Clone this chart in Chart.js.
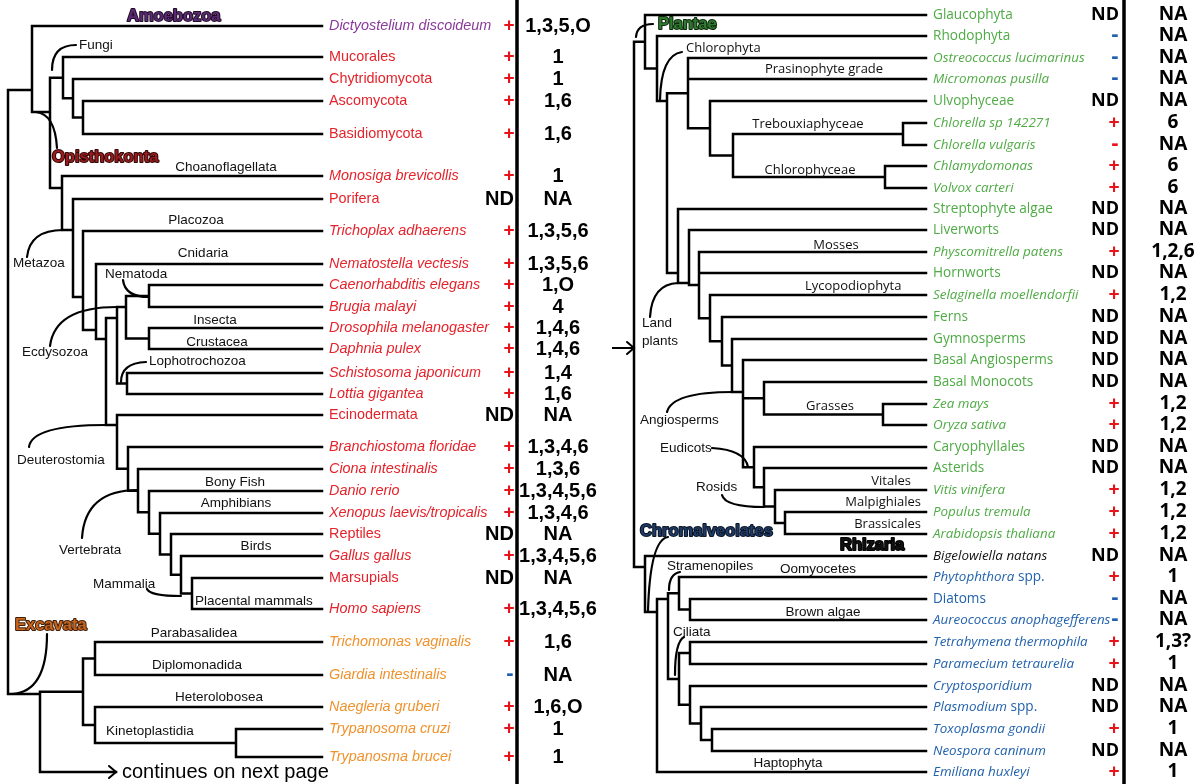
<!DOCTYPE html>
<html>
<head>
<meta charset="utf-8">
<script src="https://cdn.jsdelivr.net/npm/chart.js@4.4.1/dist/chart.umd.min.js"></script>
<style>
  html, body { margin: 0; padding: 0; background: #fff; }
  #wrap { width: 1200px; height: 784px; position: relative; }
</style>
</head>
<body>
<div id="wrap"><canvas id="tree"></canvas></div>
<script>
// ---- Left page: tips from top to bottom (_text_ = italic) ----
const leftTaxa = [
  '_Dictyostelium discoideum_', 'Mucorales', 'Chytridiomycota', 'Ascomycota', 'Basidiomycota',
  '_Monosiga brevicollis_', 'Porifera', '_Trichoplax adhaerens_', '_Nematostella vectesis_', '_Caenorhabditis elegans_',
  '_Brugia malayi_', '_Drosophila melanogaster_', '_Daphnia pulex_', '_Schistosoma japonicum_', '_Lottia gigantea_',
  'Ecinodermata', '_Branchiostoma floridae_', '_Ciona intestinalis_', '_Danio rerio_', '_Xenopus laevis/tropicalis_',
  'Reptiles', '_Gallus gallus_', 'Marsupials', '_Homo sapiens_', '_Trichomonas vaginalis_',
  '_Giardia intestinalis_', '_Naegleria gruberi_', '_Trypanosoma cruzi_', '_Trypanosma brucei_'
];
const leftRows = [26, 57, 79, 101, 134, 176, 199, 231, 264, 285, 307, 328, 349, 373, 394,
  415, 447, 469, 491, 513, 534, 556, 578, 609, 642, 675, 707, 729, 757];
const leftClade = ['amoebozoa',
  ...Array(23).fill('opisthokonta'),
  ...Array(5).fill('excavata')];
const leftSign = ['+', '+', '+', '+', '+', '+', 'ND', '+', '+', '+', '+', '+', '+', '+', '+',
  'ND', '+', '+', '+', '+', 'ND', '+', 'ND', '+', '+', '-', '+', '+', '+'];
const leftCodes = ['1,3,5,O', '1', '1', '1,6', '1,6', '1', 'NA', '1,3,5,6', '1,3,5,6', '1,O',
  '4', '1,4,6', '1,4,6', '1,4', '1,6', 'NA', '1,3,4,6', '1,3,6', '1,3,4,5,6', '1,3,4,6',
  'NA', '1,3,4,5,6', 'NA', '1,3,4,5,6', '1,6', 'NA', '1,6,O', '1', '1'];
const leftNextRow = 772;

// ---- Right page ----
const rightTaxa = [
  'Glaucophyta', 'Rhodophyta', '_Ostreococcus lucimarinus_', '_Micromonas pusilla_', 'Ulvophyceae',
  '_Chlorella sp 142271_', '_Chlorella vulgaris_', '_Chlamydomonas_', '_Volvox carteri_', 'Streptophyte algae',
  'Liverworts', '_Physcomitrella patens_', 'Hornworts', '_Selaginella moellendorfii_', 'Ferns',
  'Gymnosperms', 'Basal Angiosperms', 'Basal Monocots', '_Zea mays_', '_Oryza sativa_',
  'Caryophyllales', 'Asterids', '_Vitis vinifera_', '_Populus tremula_', '_Arabidopsis thaliana_',
  '_Bigelowiella natans_', '_Phytophthora_ spp.', 'Diatoms', '_Aureococcus anophagefferens_', '_Tetrahymena thermophila_',
  '_Paramecium tetraurelia_', '_Cryptosporidium_', '_Plasmodium_ spp.', '_Toxoplasma gondii_', '_Neospora caninum_',
  '_Emiliana huxleyi_'
];
const rightRows = [15, 36, 58, 79, 101, 123, 145, 166, 188, 209, 230, 252, 273, 295, 317, 339,
  360, 382, 404, 425, 447, 468, 490, 512, 534, 556, 577, 599, 620, 642, 664, 686, 707, 729, 751, 772];
const rightClade = [...Array(25).fill('plantae'), 'rhizaria', ...Array(10).fill('chromalveolates')];
const rightSign = ['ND', '-', '-', '-', 'ND', '+', '-', '+', '+', 'ND', 'ND', '+', 'ND', '+', 'ND',
  'ND', 'ND', 'ND', '+', '+', 'ND', 'ND', '+', '+', '+', 'ND', '+', '-', '-', '+', '+', 'ND', 'ND',
  '+', 'ND', '+'];
const rightCodes = ['NA', 'NA', 'NA', 'NA', 'NA', '6', 'NA', '6', '6', 'NA', 'NA', '1,2,6', 'NA',
  '1,2', 'NA', 'NA', 'NA', 'NA', '1,2', '1,2', 'NA', 'NA', '1,2', '1,2', '1,2', 'NA', '1', 'NA',
  'NA', '1,3?', '1', 'NA', 'NA', '1', 'NA', '1'];

// Trees: [depth, child, ...]; numbers are tip indices.
// [[depth, row], ...] pins the junction row where the figure does not sit at the midpoint.
const leftTree =
[8,
  [[32, 90], 0,
    [[50, 112],
      [63, 1, [73, 2, [83, 3, 4]]],
      [[62, 188], 5,
        [[73, 230], 6,
          [[83, 297], 7,
            [[96, 330], 8,
              [[106, 339],
                [[117, 318], [[126, 307], [149, 9, 10], [149, 11, 12]], [127, 13, 14]],
                [[117, 425], 15, [128, 16, [138, 17, [149, 18, [160, 19, [171, 20, [181, 21, [192, 22, 23]]]]]]]]
              ]
            ]
          ]
        ]
      ]
    ]
  ],
  [[40, 694], [83, [95, 24, 25], [95, 26, [236, 27, 28]]], 'next']
];

const rightTree =
[634,
  [645, 0,
    [657, 1,
      [[667, 101],
        [688, 2, 3, [710, 4, [733, [903, 5, 6], [885, 7, 8]]]],
        [[678, 273], 9,
          [[689, 283], 10,
            [699, 11, 12,
              [710, 13,
                [722, 14,
                  [732, 15,
                    [[743, 392], 16,
                      [764, 17, [883, 18, 19]],
                      [754, 20, [764, 21, [775, 22, [785, 23, 24]]]]
                    ]
                  ]
                ]
              ]
            ]
          ]
        ]
      ]
    ]
  ],
  [[645, 567], 25,
    [[657, 612],
      [[668, 599], [679, 26, [690, 27, 28]], [679, [690, 29, 30], [690, 31, [701, 32, [712, 33, 34]]]]],
      35
    ]
  ]
];

// ---- layout / style ----
const LEFT = { tipEnd: 322, nameX: 329, signX: 509, ndRight: 514, codeX: 558, nextEnd: 116 };
const RIGHT = { tipEnd: 926, nameX: 933, signX: 1114, ndRight: 1119, codeX: 1173 };
const RED_DASH_TIPS = [6]; // Chlorella vulgaris has a red minus

const CLADE_COLORS = {
  amoebozoa: '#8a3a9c', opisthokonta: '#e5232b', excavata: '#f0922c',
  plantae: '#4fab45', rhizaria: '#111111', chromalveolates: '#2262ad'
};

const ARIAL = '"Liberation Sans", Arial, sans-serif';
const OPEN = '"Open Sans", sans-serif';

// clade labels inside the trees: [text, x, y, align, font]
const leftNotes = [
  ['Fungi', 79, 45, 'left'], ['Choanoflagellata', 226, 167, 'center'], ['Placozoa', 196, 220, 'center'],
  ['Cnidaria', 203, 253, 'center'], ['Metazoa', 13, 263, 'left'], ['Nematoda', 105, 274, 'left'],
  ['Insecta', 215, 320, 'center'], ['Crustacea', 217, 342, 'center'], ['Ecdysozoa', 22, 352, 'left'],
  ['Lophotrochozoa', 149, 361, 'left'], ['Deuterostomia', 17, 460, 'left'], ['Bony Fish', 235, 482, 'center'],
  ['Amphibians', 236, 503, 'center'], ['Birds', 256, 546, 'center'], ['Vertebrata', 59, 550, 'left'],
  ['Mammalia', 93, 584, 'left'], ['Placental mammals', 195, 601, 'left'], ['Parabasalidea', 194, 633, 'center'],
  ['Diplomonadida', 197, 665, 'center'], ['Heterolobosea', 219, 697, 'center'], ['Kinetoplastidia', 106, 731, 'left']
];
const rightNotes = [
  ['Chlorophyta', 686, 48, 'left', OPEN], ['Prasinophyte grade', 824, 69, 'center', OPEN],
  ['Trebouxiaphyceae', 808, 124, 'center', OPEN], ['Chlorophyceae', 810, 170, 'center', OPEN],
  ['Mosses', 836, 245, 'center', OPEN], ['Lycopodiophyta', 805, 286, 'left', OPEN],
  ['Land', 642, 323, 'left'], ['plants', 642, 341, 'left'], ['Grasses', 830, 406, 'center', OPEN],
  ['Angiosperms', 640, 420, 'left'], ['Eudicots', 660, 448, 'left'], ['Vitales', 911, 481, 'right', OPEN],
  ['Rosids', 696, 487, 'left'], ['Malpighiales', 921, 502, 'right', OPEN], ['Brassicales', 921, 524, 'right', OPEN],
  ['Stramenopiles', 667, 566, 'left'], ['Oomyocetes', 818, 569, 'center'], ['Brown algae', 823, 612, 'center'],
  ['Ciliata', 673, 632, 'left'], ['Haptophyta', 788, 763, 'center']
];
// big coloured group names: [text, x, y, fill, outline]
const groupNotes = [
  ['Amoebozoa', 127, 16, '#5c2a72', '#1e0c26'], ['Opisthokonta', 52, 157, '#9b1c1c', '#300808'],
  ['Excavata', 15, 625, '#c8641c', '#40200a'], ['Plantae', 658, 24, '#2f7a2f', '#0c260c'],
  ['Chromalveolates', 640, 531, '#1e3a64', '#0a1424'], ['Rhizaria', 840, 545, '#111', '#000']
];
// curved pointers from labels to junctions: quadratic [x0, y0, cx, cy, x1, y1]
const leaders = [
  [52, 70, 52, 45, 76, 45], [36, 112, 55, 114, 57, 148], [27, 257, 30, 230, 63, 230],
  [123, 280, 125, 297, 149, 297], [50, 346, 55, 307, 117, 307], [146, 362, 121, 363, 121, 382],
  [29, 447, 32, 425, 106, 425], [82, 538, 85, 490, 138, 490], [147, 589, 150, 596, 181, 596],
  [47, 634, 47, 692, 12, 694],
  [653, 24, 637, 24, 636, 37], [682, 52, 661, 55, 660, 100], [650, 317, 652, 284, 678, 283],
  [667, 412, 672, 392, 733, 392], [712, 448, 745, 450, 748, 467], [722, 495, 725, 507, 764, 507],
  [668, 537, 650, 540, 648, 611], [680, 572, 669, 574, 669, 590], [684, 637, 675, 642, 675, 675]
];

// walk a tree and collect its line segments [x1, y1, x2, y2]
function place(node, rows, tipEnd, segs) {
  if (typeof node === 'number') return { x: tipEnd, y: rows[node] };
  if (node === 'next') return { x: LEFT.nextEnd, y: leftNextRow };
  const head = node[0];
  const depth = Array.isArray(head) ? head[0] : head;
  const kids = node.slice(1).map(k => place(k, rows, tipEnd, segs));
  const ys = kids.map(k => k.y);
  const top = Math.min(...ys), bot = Math.max(...ys);
  segs.push([depth, top, depth, bot]);
  kids.forEach(k => segs.push([depth, k.y, k.x, k.y]));
  return { x: depth, y: Array.isArray(head) ? head[1] : (top + bot) / 2 };
}

function toPoints(segs) {
  return segs.flatMap(([x1, y1, x2, y2]) => [{ x: x1, y: y1 }, { x: x2, y: y2 }, { x: null, y: null }]);
}

const leftSegs = [];
place(leftTree, leftRows, LEFT.tipEnd, leftSegs);
const rightSegs = [];
place(rightTree, rightRows, RIGHT.tipEnd, rightSegs);

const lineBase = {
  borderColor: '#000', pointRadius: 0, pointHoverRadius: 0, showLine: true,
  spanGaps: false, borderCapStyle: 'square', clip: false
};

// text with _italic_ runs; font may be a string or [normal, italic]
function rich(ctx, str, x, y, font, color, align) {
  const [plain, slant] = Array.isArray(font) ? font : [font, font];
  const parts = str.split('_');
  const fonts = parts.map((p, i) => (i % 2 ? 'italic ' + slant : plain));
  const widths = parts.map((p, i) => { ctx.font = fonts[i]; return ctx.measureText(p).width; });
  const total = widths.reduce((a, b) => a + b, 0);
  let cx = align === 'center' ? x - total / 2 : align === 'right' ? x - total : x;
  ctx.textAlign = 'left';
  ctx.textBaseline = 'middle';
  ctx.fillStyle = color;
  parts.forEach((p, i) => {
    if (p) { ctx.font = fonts[i]; ctx.fillText(p, cx, y); }
    cx += widths[i];
  });
}

const treeText = {
  id: 'treeText',
  afterDatasetsDraw(chart) {
    const { ctx, scales: { x, y } } = chart;
    const px = v => x.getPixelForValue(v);
    const py = v => y.getPixelForValue(v);
    ctx.save();

    // pointers
    ctx.strokeStyle = '#000';
    ctx.lineWidth = 2.2;
    ctx.lineCap = 'round';
    leaders.forEach(([x0, y0, cx, cy, x1, y1]) => {
      ctx.beginPath();
      ctx.moveTo(px(x0), py(y0));
      ctx.quadraticCurveTo(px(cx), py(cy), px(x1), py(y1));
      ctx.stroke();
    });

    // arrow heads
    ctx.lineWidth = 2;
    [[LEFT.nextEnd, leftNextRow], [634, 348]].forEach(([ax, ay]) => {
      ctx.beginPath();
      ctx.moveTo(px(ax) - 7, py(ay) - 6);
      ctx.lineTo(px(ax), py(ay));
      ctx.lineTo(px(ax) - 7, py(ay) + 6);
      ctx.stroke();
    });

    leftNotes.forEach(([t, nx, ny, al]) => rich(ctx, t, px(nx), py(ny), '13.5px ' + ARIAL, '#111', al));
    rightNotes.forEach(([t, nx, ny, al, f]) =>
      rich(ctx, t, px(nx), py(ny), (f === OPEN ? '13px ' : '13.5px ') + (f || ARIAL), '#111', al));

    groupNotes.forEach(([t, gx, gy, fill, edge]) => {
      ctx.font = 'bold 16.5px ' + ARIAL;
      ctx.textAlign = 'left';
      ctx.textBaseline = 'middle';
      ctx.lineJoin = 'round';
      ctx.lineWidth = 2;
      ctx.strokeStyle = edge;
      ctx.strokeText(t, px(gx), py(gy));
      ctx.fillStyle = fill;
      ctx.fillText(t, px(gx), py(gy));
    });

    rich(ctx, 'continues on next page', px(LEFT.nextEnd + 6), py(leftNextRow), '20px ' + ARIAL, '#000', 'left');

    // tips, signs and codes on both pages
    const page = (taxa, rows, clade, sign, codes, P, nameFont, ndFont, codeFont, redDash) => {
      taxa.forEach((t, i) => {
        const ty = py(rows[i]);
        rich(ctx, t, px(P.nameX), ty, nameFont, CLADE_COLORS[clade[i]], 'left');
        const s = sign[i];
        if (s === 'ND') {
          rich(ctx, 'ND', px(P.ndRight), ty, ndFont, '#000', 'right');
        } else if (s === '+') {
          rich(ctx, '+', px(P.signX), ty, 'bold 19px ' + ARIAL, '#e8141c', 'center');
        } else {
          rich(ctx, '-', px(P.signX + 1), ty - 1, 'bold 22px ' + ARIAL,
            redDash.includes(i) ? '#e8141c' : '#1f5fb0', 'center');
        }
        rich(ctx, codes[i], px(P.codeX), ty, codeFont, '#000', 'center');
      });
    };
    page(leftTaxa, leftRows, leftClade, leftSign, leftCodes, LEFT, '14.4px ' + ARIAL,
      'bold 20px ' + ARIAL, 'bold 20px ' + ARIAL, []);
    page(rightTaxa, rightRows, rightClade, rightSign, rightCodes, RIGHT, ['13.6px ' + OPEN, '13.4px ' + OPEN],
      'bold 18px ' + OPEN, 'bold 19px ' + OPEN, RED_DASH_TIPS);

    ctx.restore();
  }
};

new Chart(document.getElementById('tree'), {
  type: 'scatter',
  data: {
    datasets: [
      { ...lineBase, label: 'left tree', data: toPoints(leftSegs), borderWidth: 2.5 },
      { ...lineBase, label: 'right tree', data: toPoints(rightSegs), borderWidth: 2.5 },
      { ...lineBase, label: 'page rules', data: toPoints([[517, 0, 517, 784], [1124, 0, 1124, 784]]), borderWidth: 3.5, borderCapStyle: 'butt' },
      { ...lineBase, label: 'page link', data: toPoints([[612, 348, 633, 348]]), borderWidth: 2, borderCapStyle: 'butt' }
    ]
  },
  options: {
    responsive: true,
    maintainAspectRatio: false,
    animation: false,
    events: [],
    layout: { padding: 0 },
    scales: {
      x: { type: 'linear', min: 0, max: 1200, display: false },
      y: { type: 'linear', min: 0, max: 784, reverse: true, display: false }
    },
    plugins: {
      legend: { display: false },
      tooltip: { enabled: false }
    }
  },
  plugins: [treeText]
});
</script>
</body>
</html>
